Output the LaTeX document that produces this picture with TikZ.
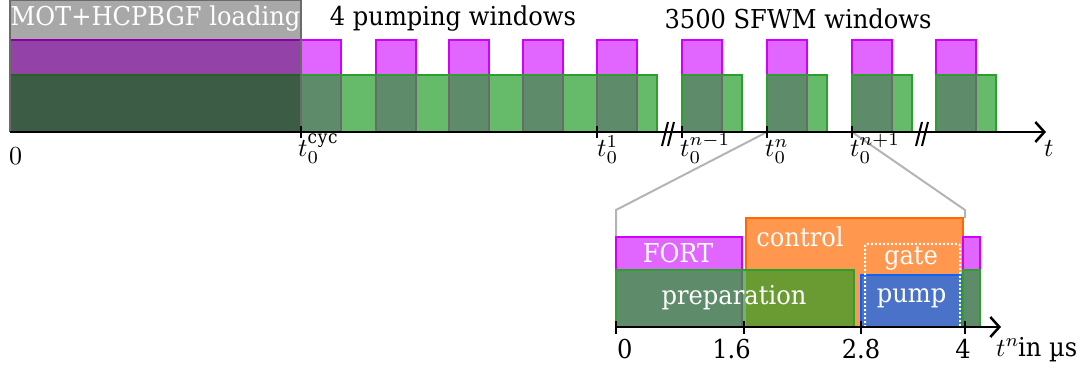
\documentclass[tikz,border=0pt]{standalone}
\usepackage{graphicx}
\usepackage{fontspec}
\setmainfont{DejaVu Serif}[FakeStretch=0.93]
\usetikzlibrary{arrows.meta}
\definecolor{fortfill}{HTML}{E066FF}
\definecolor{fortline}{HTML}{D000FF}
\definecolor{grfill}{HTML}{66BB6A}
\definecolor{grline}{HTML}{2CA02C}
\definecolor{dkgr}{HTML}{5E8C6A}
\definecolor{ovl}{HTML}{6B6B6B}
\definecolor{orfill}{HTML}{FF974F}
\definecolor{orline}{HTML}{FF6A00}
\definecolor{olive}{HTML}{6A9A32}
\definecolor{blfill}{HTML}{4A72C8}
\definecolor{blline}{HTML}{0A64FF}
\definecolor{zoomgray}{HTML}{B4B4B4}
\newcommand{\mlab}[1]{\scalebox{2.6}{$#1$}}
\tikzset{
  lbl/.style={font=\fontsize{26}{30}\selectfont, inner sep=0pt},
  mth/.style={font=\normalsize, inner sep=0pt},
  fortbox/.style={fill=fortfill, draw=fortline, line width=2pt},
  grbox/.style={draw=grline, line width=2pt},
  edge/.style={draw=ovl, line width=2pt},
  axis/.style={line width=2.5pt, -{Straight Barb[length=9pt,width=20pt]}},
  tick/.style={line width=2.5pt},
  brk/.style={line width=2pt},
  zoomline/.style={draw=zoomgray, line width=2pt},
}
\begin{document}
\begin{tikzpicture}[x=1pt,y=-1pt]
\useasboundingbox (0,0) rectangle (1089,371);
% named coordinates
\coordinate (ta) at (10,132);
\coordinate (tb) at (1046,132);
\coordinate (tn) at (767,132);
\coordinate (tn1) at (852,132);
\coordinate (zl) at (616,210);
\coordinate (zlb) at (616,237);
\coordinate (zr) at (965,210);
\coordinate (zrb) at (965,218);
\coordinate (ba) at (616,327);
\coordinate (bb) at (1001,327);
% zoom lines
\draw[zoomline] (tn) -- (zl) -- (zlb);
\draw[zoomline] (tn1) -- (zr) -- (zrb);
% ---------- top timeline ----------
\draw[fortbox] (10,40) rectangle (341,75);
\foreach \x in {376,449,523,597}{
  \draw[fortbox] (\x,40) rectangle ++(39.5,35);
}
\fill[grfill] (10,75) rectangle (657,132);
\fill[dkgr] (10,75) rectangle (341,132);
\foreach \x in {376,449,523,597}{
  \fill[dkgr] (\x,75) rectangle ++(39.5,57);
  \draw[edge] (\x,75) -- (\x,132) (\x+39.5,75) -- (\x+39.5,132);
}
\draw[edge] (341,75) -- (341,132);
\draw[grbox] (10,132) -- (10,75) -- (657,75) -- (657,132);
\foreach \x in {682,767,852,936}{
  \draw[fortbox] (\x,40) rectangle ++(39.5,35);
  \fill[grfill] (\x,75) rectangle ++(60,57);
  \fill[dkgr] (\x,75) rectangle ++(39.5,57);
  \draw[edge] (\x+39.5,75) -- (\x+39.5,132);
  \draw[grbox] (\x,132) -- (\x,75) -- (\x+60,75) -- (\x+60,132);
}
\fill[black, fill opacity=0.34] (10,0) rectangle (301,132);
\draw[edge] (10,132) -- (10,0) -- (301,0) -- (301,132);
\node[lbl, white] (mot) at (155.5,19) {MOT+HCPBGF loading};
\node[lbl] (pw) at (453,19) {4 pumping windows};
\node[lbl] (sw) at (798,19) {3500 SFWM windows};
\draw[axis] (ta) -- (tb);
\foreach \x in {301,597,682,767,852}{
  \draw[tick] (\x,126) -- (\x,138);
}
\draw[brk] (668,122) -- (662,146) (674,122) -- (668,146);
\draw[brk] (922,122) -- (916,146) (928,122) -- (922,146);
\node[mth, anchor=base west] (l0) at (9,165) {\mlab{0}};
\node[mth, anchor=base west] (lcyc) at (298,157) {\mlab{t_0^{\mathrm{cyc}}}};
\node[mth, anchor=base west] (l1) at (597,157) {\mlab{t_0^{1}}};
\node[mth, anchor=base west] (lnm) at (680,157) {\mlab{t_0^{n-1}}};
\node[mth, anchor=base west] (ln) at (765,157) {\mlab{t_0^{n}}};
\node[mth, anchor=base west] (lnp) at (850,157) {\mlab{t_0^{n+1}}};
\node[mth, anchor=base west] (lt) at (1044,157) {\mlab{t}};
% ---------- bottom zoom ----------
\draw[fill=orfill, draw=orline, line width=2pt] (746,218) rectangle (963,327);
\draw[fortbox] (616,237) rectangle (742,270);
\fill[grfill] (616,270) rectangle (854,327);
\fill[dkgr] (616,270) rectangle (742,327);
\draw[edge] (742,270) -- (742,327);
\fill[olive] (746,270) rectangle (854,327);
\draw[grbox] (616,327) -- (616,270) -- (854,270) -- (854,327);
\draw[fill=blfill, draw=blline, line width=2pt] (861,275) rectangle (962,327);
\draw[white, line width=2pt, dotted, rounded corners=2pt] (865,327) -- (865,244) -- (960,244) -- (960,327);
\draw[fortbox] (963,237) rectangle (980,270);
\draw[fill=dkgr, draw=grline, line width=2pt] (963,327) -- (963,270) -- (980,270) -- (980,327);
\node[lbl, white] (fort) at (678,253) {FORT};
\node[lbl, white] (ctrl) at (800,237) {control};
\node[lbl, white] (gate) at (911,259) {gate};
\node[lbl, white] (prep) at (734,298) {preparation};
\node[lbl, white] (pump) at (911.5,298) {pump};
\draw[axis] (ba) -- (bb);
\foreach \x in {616,744,861,965}{
  \draw[tick] (\x,321) -- (\x,334);
}
\node[lbl, anchor=base west] (b0) at (617,358) {0};
\node[lbl, anchor=base east] (b16) at (751,358) {1.6};
\node[lbl, anchor=base] (b28) at (861,358) {2.8};
\node[lbl, anchor=base] (b4) at (963,358) {4};
\node[mth, anchor=base west] (btn) at (996,356) {\mlab{t^n}};
\node[lbl, anchor=base west] (bin) at (1018,356) {in µs};
\end{tikzpicture}
\end{document}
